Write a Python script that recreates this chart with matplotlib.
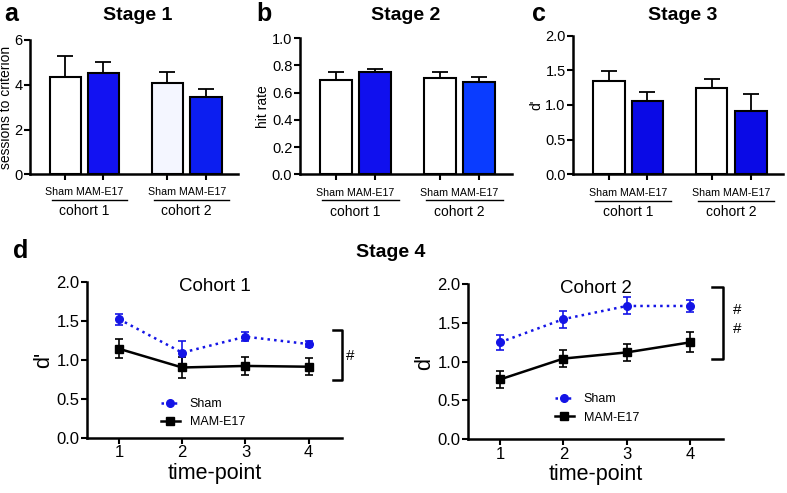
import numpy as np
import matplotlib.pyplot as plt
from matplotlib.lines import Line2D

plt.rcParams['font.family'] = ['Liberation Sans', 'DejaVu Sans']

# bar panels (a-c): Sham c1, MAM c1, Sham c2, MAM c2
stage1_mean = [4.33, 4.54, 4.07, 3.47]
stage1_err = [0.95, 0.48, 0.49, 0.35]
stage2_mean = [0.693, 0.754, 0.710, 0.680]
stage2_err = [0.057, 0.020, 0.040, 0.038]
stage3_mean = [1.346, 1.058, 1.240, 0.913]
stage3_err = [0.149, 0.132, 0.135, 0.246]

bar_colors_a = ['#ffffff', '#1212f2', '#f4f6ff', '#0c1ef0']
bar_colors_b = ['#ffffff', '#1010ee', '#ffffff', '#0a3cff']
bar_colors_c = ['#ffffff', '#0a0ae6', '#ffffff', '#0a0ae6']

# stage 4 (d)
timepoints = [1, 2, 3, 4]
c1_sham = [1.52, 1.09, 1.295, 1.20]
c1_sham_err = [0.07, 0.15, 0.06, 0.04]
c1_mam = [1.14, 0.90, 0.92, 0.91]
c1_mam_err = [0.12, 0.13, 0.12, 0.11]
c2_sham = [1.25, 1.55, 1.72, 1.72]
c2_sham_err = [0.10, 0.11, 0.11, 0.08]
c2_mam = [0.77, 1.04, 1.12, 1.25]
c2_mam_err = [0.11, 0.11, 0.11, 0.13]

bar_x = [0, 1, 2.68, 3.7]
group_labels = ['cohort 1', 'cohort 2']
sham_color = '#1414e6'

fig = plt.figure(figsize=(7.87, 4.93), dpi=100)


def style_axes(ax, labelsize=10):
    for s in ['top', 'right']:
        ax.spines[s].set_visible(False)
    for s in ['left', 'bottom']:
        ax.spines[s].set_linewidth(1.8)
    ax.tick_params(width=1.5, length=4, pad=1.5, labelsize=labelsize)


def bar_panel(rect, means, errs, colors, ylim, yticks, ylabel, title, title_x, letter, letter_x):
    ax = fig.add_axes(rect)
    ax.bar(bar_x, means, width=0.82, color=colors, edgecolor='black', linewidth=1.5, zorder=2)
    ax.errorbar(bar_x, means, yerr=[np.zeros(4), errs], fmt='none', ecolor='black',
                elinewidth=1.3, capsize=6, capthick=1.3, zorder=1)
    style_axes(ax, 10.5)
    ax.set_xlim(-0.93, 4.54)
    ax.set_ylim(*ylim)
    ax.set_yticks(yticks)
    ax.set_xticks(bar_x)
    ax.set_xticklabels([])
    ax.set_ylabel(ylabel, fontsize=10, labelpad=1)
    fig.text(title_x, 0.968, title, fontsize=14, fontweight='bold', ha='center', va='center')
    fig.text(letter_x, 0.972, letter, fontsize=18, fontweight='bold', ha='left', va='center')
    # group labels under the axis
    for i, lab in enumerate(group_labels):
        xc = (bar_x[2 * i] + bar_x[2 * i + 1]) / 2
        ax.text(xc, -0.135, 'Sham MAM-E17', transform=ax.get_xaxis_transform(),
                ha='center', va='center', fontsize=7.7)
        ax.plot([xc - 0.86, xc + 1.12], [-0.19, -0.19], transform=ax.get_xaxis_transform(),
                color='black', lw=1, clip_on=False)
        ax.text(xc, -0.275, lab, transform=ax.get_xaxis_transform(),
                ha='center', va='center', fontsize=10)
    return ax


bar_panel([0.0381, 0.6465, 0.2643, 0.2724], stage1_mean, stage1_err, bar_colors_a,
          (0, 6), [0, 2, 4, 6], 'sessions to criterion', 'Stage 1', 0.175, 'a', 0.005)
bar_panel([0.3812, 0.6465, 0.2690, 0.2758], stage2_mean, stage2_err, bar_colors_b,
          (0, 1.0), [0, 0.2, 0.4, 0.6, 0.8, 1.0], 'hit rate', 'Stage 2', 0.516, 'b', 0.326)
bar_panel([0.7285, 0.6465, 0.2665, 0.2811], stage3_mean, stage3_err, bar_colors_c,
          (0, 2.0), [0, 0.5, 1.0, 1.5, 2.0], "d'", 'Stage 3', 0.867, 'c', 0.676)

for ax in fig.axes[1:]:
    ax.yaxis.set_major_formatter(plt.FormatStrFormatter('%.1f'))


def line_panel(rect, sham, sham_err, mam, mam_err, title, leg_xy, br, hashes):
    ax = fig.add_axes(rect)
    ax.errorbar(timepoints, sham, yerr=sham_err, color=sham_color, ls=':', lw=1.8,
                marker='o', ms=5.5, capsize=3, elinewidth=1.2, capthick=1.2)
    ax.errorbar(timepoints, mam, yerr=mam_err, color='black', ls='-', lw=1.8,
                marker='s', ms=5.5, capsize=3, elinewidth=1.2, capthick=1.2)
    style_axes(ax, 12)
    ax.set_xlim(0.5, 4.52)
    ax.set_ylim(0, 2.0)
    ax.set_xticks(timepoints)
    ax.set_yticks([0, 0.5, 1.0, 1.5, 2.0])
    ax.yaxis.set_major_formatter(plt.FormatStrFormatter('%.1f'))
    ax.set_xlabel('time-point', fontsize=15.5, labelpad=2)
    ax.set_ylabel("d'", fontsize=15.5, labelpad=2)
    ax.text(0.5, 0.97, title, transform=ax.transAxes, ha='center', va='center', fontsize=13.5)
    handles = [Line2D([], [], color=sham_color, ls=':', lw=1.8, marker='o', ms=5.5),
               Line2D([], [], color='black', ls='-', lw=1.8, marker='s', ms=5.5)]
    ax.legend(handles, ['Sham', 'MAM-E17'], loc='lower left', bbox_to_anchor=leg_xy,
              frameon=False, borderpad=0, borderaxespad=0, fontsize=9, handlelength=1.5,
              handletextpad=0.8, labelspacing=0.5)
    # significance bracket
    x0, x1, y0, y1 = br
    ax.plot([x0, x1, x1, x0], [y1, y1, y0, y0], color='black', lw=1.8, clip_on=False)
    for hx, hy in hashes:
        ax.text(hx, hy, '#', ha='center', va='center', fontsize=11, clip_on=False)
    return ax


line_panel([0.111, 0.1122, 0.323, 0.3164], c1_sham, c1_sham_err, c1_mam, c1_mam_err,
           'Cohort 1', (0.29, 0.06), (4.39, 4.52, 0.74, 1.38), [(4.66, 1.05)])
line_panel([0.595, 0.1095, 0.324, 0.3138], c2_sham, c2_sham_err, c2_mam, c2_mam_err,
           'Cohort 2', (0.34, 0.1), (4.35, 4.51, 1.04, 1.97), [(4.74, 1.67), [4.74, 1.42]])

fig.text(0.017, 0.49, 'd', fontsize=18, fontweight='bold', ha='left', va='center')
fig.text(0.496, 0.487, 'Stage 4', fontsize=14, fontweight='bold', ha='center', va='center')

fig.savefig('out.png', dpi=100)
